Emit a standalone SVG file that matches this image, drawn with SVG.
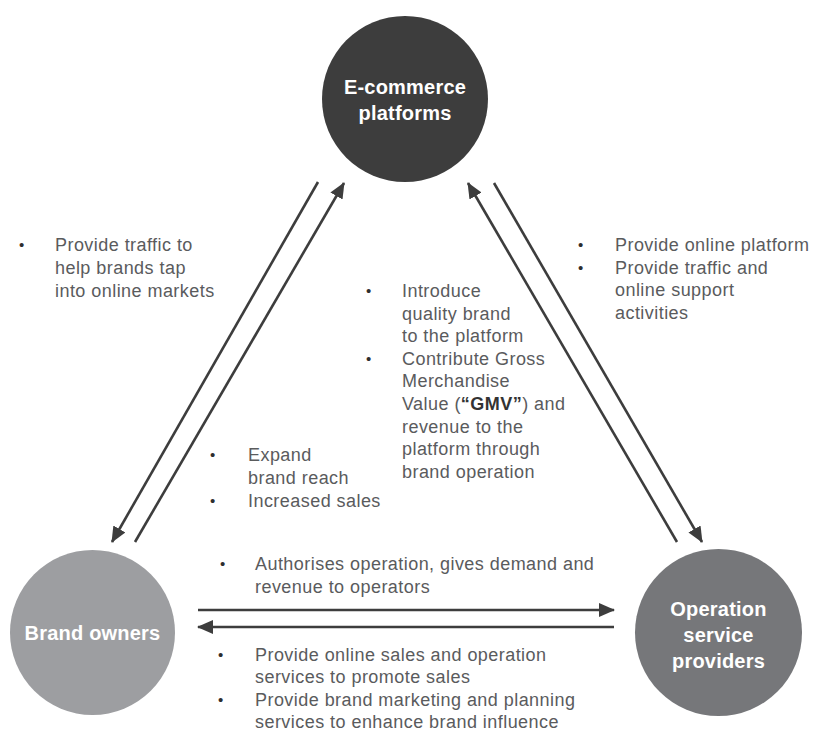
<svg xmlns="http://www.w3.org/2000/svg" width="814" height="732" viewBox="0 0 814 732">
  <style>
    .node-label { font-family: "Liberation Sans", Arial, sans-serif; font-size: 20px; font-weight: bold; fill: #ffffff; text-anchor: middle; letter-spacing: 0.2px; }
    .note { font-family: "Liberation Sans", Arial, sans-serif; font-size: 18px; fill: #5a5b5d; letter-spacing: 0.45px; }
    .dot { font-family: "Liberation Sans", Arial, sans-serif; font-size: 15px; fill: #2e2e2e; }
    .link { stroke: #3d3d3d; stroke-width: 2.6; fill: none; marker-end: url(#head); }
  </style>
  <defs>
    <marker id="head" markerUnits="userSpaceOnUse" markerWidth="17" markerHeight="15" refX="15" refY="7" orient="auto">
      <path d="M0,0 L16,7 L0,14 z" fill="#3d3d3d"/>
    </marker>
  </defs>

  <rect width="814" height="732" fill="#ffffff"/>

  <!-- connectors -->
  <g id="connectors">
    <line class="link" x1="318" y1="182" x2="112" y2="542"/>
    <line class="link" x1="135" y1="542" x2="344" y2="183"/>
    <line class="link" x1="677" y1="542" x2="468" y2="183"/>
    <line class="link" x1="494" y1="183" x2="702" y2="542"/>
    <line class="link" x1="198" y1="610" x2="614" y2="610"/>
    <line class="link" x1="614" y1="627" x2="198" y2="627"/>
  </g>

  <!-- nodes -->
  <g id="ecommerce">
    <circle cx="405" cy="99" r="83" fill="#3d3d3d"/>
    <text class="node-label" x="405" y="94">E-commerce</text>
    <text class="node-label" x="405" y="120">platforms</text>
  </g>
  <g id="brand-owners">
    <circle cx="92.5" cy="632.5" r="82.5" fill="#9d9ea1"/>
    <text class="node-label" x="92.5" y="640">Brand owners</text>
  </g>
  <g id="operators">
    <circle cx="718.5" cy="632.5" r="83.5" fill="#76777a"/>
    <text class="node-label" x="718.5" y="616">Operation</text>
    <text class="node-label" x="718.5" y="642">service</text>
    <text class="node-label" x="718.5" y="668">providers</text>
  </g>

  <!-- annotations -->
  <g id="notes">
    <text class="dot" x="19" y="250">•</text>
    <text class="note" x="55" y="251">Provide traffic to</text>
    <text class="note" x="55" y="274">help brands tap</text>
    <text class="note" x="55" y="297">into online markets</text>

    <text class="dot" x="578" y="250">•</text>
    <text class="note" x="615" y="251">Provide online platform</text>
    <text class="dot" x="578" y="272.5">•</text>
    <text class="note" x="615" y="273.5">Provide traffic and</text>
    <text class="note" x="615" y="296">online support</text>
    <text class="note" x="615" y="318.5">activities</text>

    <text class="dot" x="366" y="296">•</text>
    <text class="note" x="402" y="297">Introduce</text>
    <text class="note" x="402" y="319.6">quality brand</text>
    <text class="note" x="402" y="342.2">to the platform</text>
    <text class="dot" x="366" y="363.8">•</text>
    <text class="note" x="402" y="364.8">Contribute Gross</text>
    <text class="note" x="402" y="387.4">Merchandise</text>
    <text class="note" x="402" y="410">Value (<tspan font-weight="bold" fill="#333333">“GMV”</tspan>) and</text>
    <text class="note" x="402" y="432.6">revenue to the</text>
    <text class="note" x="402" y="455.2">platform through</text>
    <text class="note" x="402" y="477.8">brand operation</text>

    <text class="dot" x="210" y="460">•</text>
    <text class="note" x="248" y="461">Expand</text>
    <text class="note" x="248" y="484">brand reach</text>
    <text class="dot" x="210" y="506">•</text>
    <text class="note" x="248" y="507">Increased sales</text>

    <text class="dot" x="220" y="569">•</text>
    <text class="note" x="255" y="570">Authorises operation, gives demand and</text>
    <text class="note" x="255" y="593">revenue to operators</text>

    <text class="dot" x="218" y="660">•</text>
    <text class="note" x="255" y="661">Provide online sales and operation</text>
    <text class="note" x="255" y="683">services to promote sales</text>
    <text class="dot" x="218" y="705">•</text>
    <text class="note" x="255" y="706">Provide brand marketing and planning</text>
    <text class="note" x="255" y="728">services to enhance brand influence</text>
  </g>
</svg>
